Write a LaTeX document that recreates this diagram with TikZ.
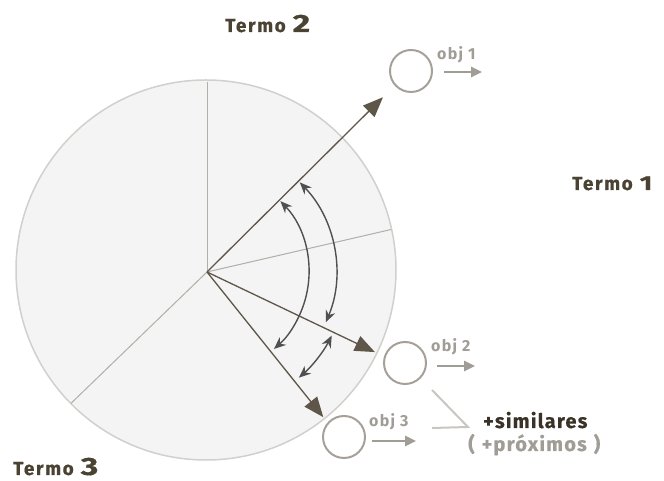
\documentclass[tikz,border=0pt]{standalone}
\usepackage{fontspec}
\setmainfont{Fira Sans}
\usetikzlibrary{arrows.meta}
\definecolor{termc}{HTML}{4A4232}
\definecolor{simc}{HTML}{3A3226}
\definecolor{grayt}{HTML}{A09C96}
\definecolor{objc}{HTML}{A5A19A}
\definecolor{mainc}{HTML}{5E5648}
\definecolor{arcc}{HTML}{505050}
\definecolor{fillc}{HTML}{F4F4F4}
\definecolor{rimc}{HTML}{D2D0CD}
\definecolor{innerc}{HTML}{B2AEA8}
\definecolor{brk}{HTML}{C9C6C1}
\newcommand{\bignum}[2]{\hspace{7pt}{\fontsize{#1}{#1}\selectfont\scalebox{1.35}[1]{#2}}}
\begin{document}
\begin{tikzpicture}[x=1pt,y=1pt,
  termlabel/.style={anchor=base west, inner sep=0pt, font=\bfseries\fontsize{19}{22}\selectfont\addfontfeature{LetterSpace=8,FakeBold=0.6}, text=termc},
  objlabel/.style={anchor=base west, inner sep=0pt, font=\bfseries\fontsize{16}{18}\selectfont\addfontfeature{LetterSpace=8}, text=grayt},
  objcircle/.style={circle, draw=objc, line width=2pt, minimum size=42pt, inner sep=0pt},
  objarrow/.style={draw=grayt, line width=2.5pt, -{Triangle[length=11pt,width=10pt]}},
  mainarrow/.style={draw=mainc, line width=1.3pt, -{Triangle[length=20pt,width=16pt]}},
  anglearrow/.style={draw=arcc, line width=1.4pt, {Stealth[length=12pt,width=10pt]}-{Stealth[length=12pt,width=10pt]}},
  innerline/.style={draw=innerc, line width=1pt},
  simlabel/.style={anchor=base west, inner sep=0pt, font=\bfseries\fontsize{20}{22}\selectfont\addfontfeature{LetterSpace=6,FakeBold=0.4}}]
\useasboundingbox (0,0) rectangle (664,481);
% big circle
\coordinate (C) at (206,211);
\coordinate (O) at (207,209);
\fill[fillc] (C) circle[radius=190pt];
\draw[rimc, line width=1.5pt] (C) circle[radius=190pt];
% inner sector lines
\draw[innerline] (O) -- ++(90:190) coordinate (L1);
\draw[innerline] (O) -- ++(13:189) coordinate (L2);
\draw[innerline] (O) -- ++(224:189) coordinate (L3);
% main arrows
\draw[mainarrow] (O) -- ++(44.8:248) coordinate (A1);
\draw[mainarrow] (O) -- ++(-25.5:186) coordinate (A2);
\draw[mainarrow] (O) -- ++(-51.3:186) coordinate (A3);
% angle arcs
\draw[anglearrow] (O) ++(44:102) arc[start angle=44, end angle=-49, radius=102pt];
\draw[anglearrow] (O) ++(44:129) arc[start angle=44, end angle=-23, radius=129pt];
\draw[anglearrow] (O) ++(-27:140) arc[start angle=-27, end angle=-49, radius=140pt];
% objects
\node[objcircle] (obj1) at (411,410) {};
\node[objcircle] (obj2) at (405,118) {};
\node[objcircle] (obj3) at (344,44) {};
\node[objlabel] (t1) at (437,421) {obj 1};
\node[objlabel] (t2) at (431,129) {obj 2};
\node[objlabel] (t3) at (369,54) {obj 3};
\coordinate (o1a) at (444,409); \coordinate (o1b) at (482,409);
\coordinate (o2a) at (437,115); \coordinate (o2b) at (475,115);
\coordinate (o3a) at (372,40);  \coordinate (o3b) at (416,40);
\draw[objarrow] (o1a) -- (o1b);
\draw[objarrow] (o2a) -- (o2b);
\draw[objarrow] (o3a) -- (o3b);
% bracket
\coordinate (b1) at (432,91); \coordinate (b2) at (468,54); \coordinate (b3) at (432,53);
\draw[brk, line width=2pt] (b1) -- (b2) -- (b3);
\node[simlabel, text=simc] (sim) at (483,53) {+similares};
\node[simlabel, text=grayt] (prox) at (468,30) {(\kern7pt+próximos\kern7pt)};
% term labels
\node[termlabel] (T2) at (225,449) {Termo\bignum{25}{2}};
\node[termlabel] (T1) at (572,291) {Termo\bignum{20}{1}};
\node[termlabel] (T3) at (13,6) {Termo\bignum{25}{3}};
\end{tikzpicture}
\end{document}
